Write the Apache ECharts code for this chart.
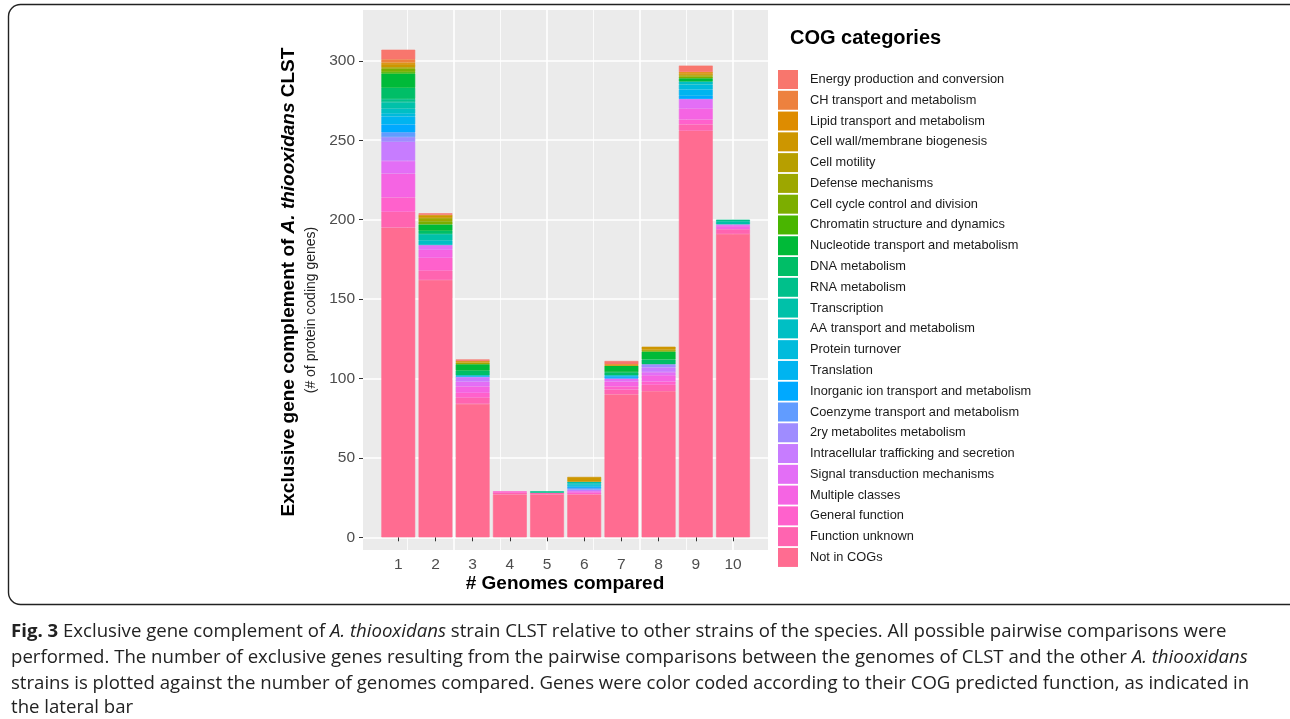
<!DOCTYPE html>
<html>
<head>
<meta charset="utf-8">
<script src="https://cdn.jsdelivr.net/npm/echarts@6.0.0/dist/echarts.min.js"></script>
<style>
  html, body { margin: 0; padding: 0; background: #ffffff; }
  #chart { width: 1290px; height: 719px; }
</style>
</head>
<body>
<div id="chart"></div>
<script>
// ---------------- DATA ----------------
const genomes = ['1', '2', '3', '4', '5', '6', '7', '8', '9', '10'];
const yTicks = [0, 50, 100, 150, 200, 250, 300];

// COG categories in legend order (top of legend = top of stack)
const categories = [
  "Energy production and conversion",
  "CH transport and metabolism",
  "Lipid transport and metabolism",
  "Cell wall/membrane biogenesis",
  "Cell motility",
  "Defense mechanisms",
  "Cell cycle control and division",
  "Chromatin structure and dynamics",
  "Nucleotide transport and metabolism",
  "DNA metabolism",
  "RNA metabolism",
  "Transcription",
  "AA transport and metabolism",
  "Protein turnover",
  "Translation",
  "Inorganic ion transport and metabolism",
  "Coenzyme transport and metabolism",
  "2ry metabolites metabolism",
  "Intracellular trafficking and secretion",
  "Signal transduction mechanisms",
  "Multiple classes",
  "General function",
  "Function unknown",
  "Not in COGs"
];

// values per category for genomes 1..10
const energy        = [6, 1, 1, 0, 0, 0, 2, 0, 4, 0];
const chTransport   = [2, 0, 0, 0, 0, 0, 0, 0, 0, 0];
const lipid         = [1, 0, 0, 0, 0, 0, 1, 0, 1, 0];
const cellWall      = [2, 2, 1, 0, 0, 3, 0, 2, 1, 0];
const motility      = [0, 0, 0, 0, 0, 0, 0, 0, 0, 0];
const defense       = [1, 2, 1, 0, 0, 0, 0, 1, 1, 0];
const cellCycle     = [2, 2, 0, 0, 0, 0, 0, 0, 1, 0];
const chromatin     = [1, 0, 0, 0, 0, 0, 0, 0, 0, 0];
const nucleotide    = [9, 4, 4, 0, 0, 0, 4, 5, 2, 0];
const dnaMetab      = [7, 2, 3, 0, 0, 0, 2, 3, 0, 0];
const rnaMetab      = [2, 0, 0, 0, 1, 0, 0, 0, 0, 1];
const transcription = [4, 4, 0, 0, 0, 1, 0, 0, 0, 2];
const aaTransport   = [3, 3, 0, 0, 0, 1, 0, 0, 2, 0];
const proteinTurn   = [2, 0, 0, 0, 0, 1, 0, 0, 3, 0];
const translation   = [5, 0, 1, 0, 0, 0, 1, 0, 4, 0];
const inorganic     = [5, 0, 0, 0, 0, 1, 1, 0, 2, 0];
const coenzyme      = [3, 0, 0, 0, 0, 1, 0, 0, 0, 0];
const secondary     = [3, 0, 0, 0, 0, 0, 0, 2, 0, 0];
const intracellular = [12, 0, 3, 0, 0, 1, 0, 3, 0, 0];
const signalTrans   = [8, 3, 3, 0, 0, 0, 2, 2, 6, 1];
const multiple      = [15, 5, 4, 0, 0, 1, 3, 4, 7, 2];
const generalFn     = [9, 8, 3, 1, 0, 1, 2, 2, 3, 0];
const unknownFn     = [10, 6, 4, 1, 1, 0, 3, 4, 4, 3];
const notInCogs     = [195, 162, 84, 27, 27, 27, 90, 92, 256, 191];

const seriesValues = [
  energy, chTransport, lipid, cellWall, motility, defense, cellCycle, chromatin,
  nucleotide, dnaMetab, rnaMetab, transcription, aaTransport, proteinTurn, translation,
  inorganic, coenzyme, secondary, intracellular, signalTrans, multiple, generalFn,
  unknownFn, notInCogs
];

// ---------------- COLOURS (ggplot2 hue palette) ----------------
function hcl(h, c, l) {
  const WY = 100, Wu = 0.1978398, Wv = 0.4683363;
  const hr = h * Math.PI / 180;
  const U = c * Math.cos(hr), V = c * Math.sin(hr);
  const Y = WY * (l > 8 ? Math.pow((l + 16) / 116, 3) : l / 903.3);
  const u = U / (13 * l) + Wu, v = V / (13 * l) + Wv;
  const X = 9.0 * Y * u / (4 * v);
  const Z = -X / 3 - 5 * Y + 3 * Y / v;
  const x = X / WY, y = Y / WY, z = Z / WY;
  const lin = [
    3.240479 * x - 1.537150 * y - 0.498535 * z,
    -0.969256 * x + 1.875992 * y + 0.041556 * z,
    0.055648 * x - 0.204043 * y + 1.057311 * z
  ];
  return '#' + lin.map(t => {
    let g = t <= 0.0031308 ? 12.92 * t : 1.055 * Math.pow(t, 1 / 2.4) - 0.055;
    g = Math.max(0, Math.min(1, g));
    return Math.round(g * 255).toString(16).padStart(2, '0');
  }).join('');
}
const n = categories.length;
const palette = categories.map((_, i) => hcl(15 + 360 * i / n, 100, 65));

// ---------------- CHART ----------------
const chart = echarts.init(document.getElementById('chart'), null, { renderer: 'canvas' });
const FONT = 'Liberation Sans, Arial, Helvetica, sans-serif';
const CAPFONT = 'Open Sans, Noto Sans, sans-serif';
const CAPSIZE = 18.6;

// stacking: first series drawn at bottom -> Not in COGs first
const series = [];
for (let i = n - 1; i >= 0; i--) {
  series.push({
    name: categories[i],
    type: 'bar',
    stack: 'total',
    xAxisIndex: 2,
    yAxisIndex: 1,
    barWidth: '91%',
    itemStyle: { color: palette[i], borderColor: palette[i], borderWidth: 0.6 },
    emphasis: { disabled: true },
    data: seriesValues[i].map(v => (v === 0 ? '-' : v))
  });
}

// panel x scale: genome positions 1..10 with continuous expansion
const panelX = { type: 'value', min: 0.055, max: 10.945, gridIndex: 0 };
const yRange = { min: -8, max: 332 };

const option = {
  animation: false,
  backgroundColor: '#ffffff',
  title: {
    text: 'COG categories',
    left: 785, top: 23,
    textStyle: { fontFamily: FONT, fontSize: 20, fontWeight: 'bold', color: '#000' }
  },
  legend: {
    data: categories,
    orient: 'vertical',
    left: 778, top: 70,
    itemWidth: 20, itemHeight: 19, itemGap: 1.78,
    icon: 'rect',
    itemStyle: { borderWidth: 0 },
    selectedMode: false,
    padding: 0,
    textStyle: { fontFamily: FONT, fontSize: 12.8, color: '#1a1a1a', padding: [0, 0, 0, 7] }
  },
  grid: [
    { left: 363, right: 522, top: 10, bottom: 169, show: true, backgroundColor: '#EBEBEB', borderWidth: 0 },
    { left: 379.7, right: 538.4, top: 10, bottom: 169, show: false }
  ],
  xAxis: [
    Object.assign({}, panelX, {
      axisLine: { show: false },
      axisTick: { show: false, customValues: [2.5, 5, 7.5, 10] },
      axisLabel: { show: false },
      splitLine: { show: true, lineStyle: { color: '#ffffff', width: 1.6 } }
    }),
    Object.assign({}, panelX, {
      axisLine: { show: false },
      axisTick: { show: false, customValues: [1.25, 3.75, 6.25, 8.75] },
      axisLabel: { show: false },
      splitLine: { show: true, lineStyle: { color: '#ffffff', width: 0.8 } }
    }),
    {
      type: 'category', gridIndex: 1, data: genomes, boundaryGap: true,
      axisLine: { show: false },
      axisTick: { show: true, alignWithLabel: true, length: 4, lineStyle: { color: '#333333', width: 1 } },
      axisLabel: { color: '#4D4D4D', fontSize: 15.5, fontFamily: FONT, margin: 7 },
      splitLine: { show: false }
    }
  ],
  yAxis: [
    Object.assign({ type: 'value', gridIndex: 0 }, yRange, {
      axisLine: { show: false },
      axisTick: { show: true, customValues: yTicks, length: 4, lineStyle: { color: '#333333', width: 1 } },
      axisLabel: { customValues: yTicks, color: '#4D4D4D', fontSize: 15.5, fontFamily: FONT, margin: 8 },
      splitLine: { show: true, lineStyle: { color: '#ffffff', width: 1.6 } }
    }),
    Object.assign({ type: 'value', gridIndex: 1 }, yRange, {
      axisLine: { show: false }, axisTick: { show: false }, axisLabel: { show: false },
      splitLine: { show: false }
    })
  ],
  series: series,
  graphic: [
    {
      type: 'rect', silent: true, z: 0,
      shape: { x: 8.5, y: 4.5, width: 1320, height: 600, r: 12 },
      style: { fill: 'none', stroke: '#222222', lineWidth: 1.4 }
    },
    {
      type: 'text', x: 289, y: 282, rotation: Math.PI / 2,
      style: {
        text: '{b|Exclusive gene complement of }{bi|A. thiooxidans}{b| CLST}',
        align: 'center', verticalAlign: 'middle',
        rich: {
          b: { fontFamily: FONT, fontSize: 19, fontWeight: 'bold', fill: '#000' },
          bi: { fontFamily: FONT, fontSize: 19, fontWeight: 'bold', fontStyle: 'italic', fill: '#000' }
        }
      }
    },
    {
      type: 'text', x: 311, y: 310, rotation: Math.PI / 2,
      style: {
        text: '(# of protein coding genes)',
        align: 'center', verticalAlign: 'middle',
        font: '14px ' + FONT, fill: '#222'
      }
    },
    {
      type: 'text', x: 565, y: 584,
      style: {
        text: '# Genomes compared',
        align: 'center', verticalAlign: 'middle',
        font: 'bold 19px ' + FONT, fill: '#000'
      }
    },
    {
      type: 'text', x: 11, y: 632,
      style: {
        text: '{b|Fig. 3} Exclusive gene complement of {i|A. thiooxidans} strain CLST relative to other strains of the species. All possible pairwise comparisons were',
        align: 'left', verticalAlign: 'middle',
        font: CAPSIZE + 'px ' + CAPFONT, fill: '#222',
        rich: {
          b: { fontFamily: CAPFONT, fontSize: CAPSIZE, fontWeight: 'bold', fill: '#222' },
          i: { fontFamily: CAPFONT, fontSize: CAPSIZE, fontStyle: 'italic', fill: '#222' }
        }
      }
    },
    {
      type: 'text', x: 11, y: 658,
      style: {
        text: 'performed. The number of exclusive genes resulting from the pairwise comparisons between the genomes of CLST and the other {i|A. thiooxidans}',
        align: 'left', verticalAlign: 'middle',
        font: CAPSIZE + 'px ' + CAPFONT, fill: '#222',
        rich: { i: { fontFamily: CAPFONT, fontSize: CAPSIZE, fontStyle: 'italic', fill: '#222' } }
      }
    },
    {
      type: 'text', x: 11, y: 684,
      style: {
        text: 'strains is plotted against the number of genomes compared. Genes were color coded according to their COG predicted function, as indicated in',
        align: 'left', verticalAlign: 'middle',
        font: CAPSIZE + 'px ' + CAPFONT, fill: '#222'
      }
    },
    {
      type: 'text', x: 11, y: 708,
      style: {
        text: 'the lateral bar',
        align: 'left', verticalAlign: 'middle',
        font: CAPSIZE + 'px ' + CAPFONT, fill: '#222'
      }
    }
  ]
};
chart.setOption(option);
</script>
</body>
</html>
